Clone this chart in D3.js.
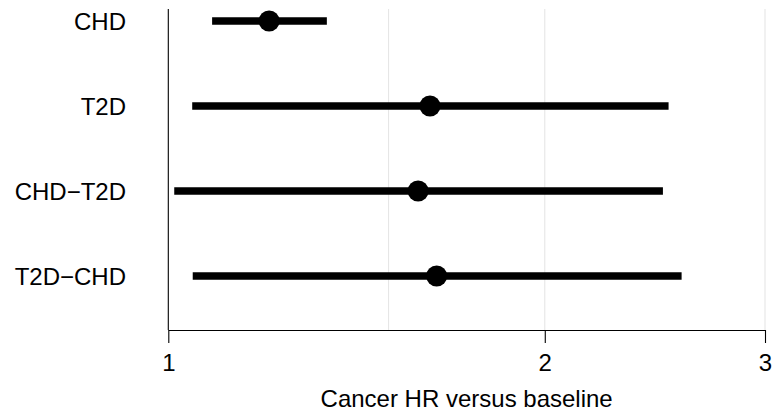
<!DOCTYPE html>
<html>
<head>
<meta charset="utf-8">
<script src="https://cdn.jsdelivr.net/npm/d3@7"></script>
<style>
  body { margin: 0; background: #fff; }
  text { font-family: "Liberation Sans", Arial, sans-serif; }
</style>
</head>
<body>
<div id="chart"></div>
<script>
// data
const groups = ["CHD", "T2D", "CHD\u2212T2D", "T2D\u2212CHD"];
const hr     = [1.204, 1.619, 1.584, 1.639];
const lower  = [1.084, 1.045, 1.011, 1.046];
const upper  = [1.339, 2.512, 2.486, 2.573];
const xTicks = [1, 2, 3];
const xGrid  = [1.5, 2, 3];

const width = 772, height = 411;

const svg = d3.select("#chart").append("svg")
    .attr("width", width)
    .attr("height", height);

const x = d3.scaleLog()
    .domain([1, 3])
    .range([168.3, 765]);

const y = d3.scalePoint()
    .domain(groups)
    .range([21, 276]);

const plotTop = 9, plotBottom = 330;

// grid
svg.append("g")
  .selectAll("line")
  .data(xGrid)
  .enter()
  .append("line")
    .attr("x1", d => x(d)).attr("x2", d => x(d))
    .attr("y1", plotTop).attr("y2", plotBottom)
    .attr("stroke", "#e6e6e6")
    .attr("stroke-width", 1.1);

// reference line at HR = 1
svg.append("line")
    .attr("x1", x(1)).attr("x2", x(1))
    .attr("y1", plotTop).attr("y2", plotBottom)
    .attr("stroke", "black")
    .attr("stroke-width", 1.1);

// x axis
const xAxis = svg.append("g")
    .attr("transform", "translate(0," + plotBottom + ")")
    .call(d3.axisBottom(x).tickValues(xTicks).tickFormat(d3.format("d")).tickSize(13).tickSizeOuter(0));

xAxis.select(".domain").attr("stroke", "black").attr("stroke-width", 1.1);
xAxis.selectAll(".tick line").attr("stroke", "black").attr("stroke-width", 1.1);
xAxis.selectAll(".tick text")
    .attr("y", 0)
    .attr("dy", 0)
    .attr("transform", "translate(0,41)")
    .style("font-size", "24px")
    .attr("fill", "black");

// y labels
svg.append("g")
  .selectAll("text")
  .data(groups)
  .enter()
  .append("text")
    .attr("x", 126)
    .attr("y", d => y(d) + 8.5)
    .attr("text-anchor", "end")
    .style("font-size", "24px")
    .attr("fill", "black")
    .text(d => d);

// intervals
const rows = groups.map((g, i) => ({g: g, hr: hr[i], lo: lower[i], hi: upper[i]}));

svg.append("g")
  .selectAll("line")
  .data(rows)
  .enter()
  .append("line")
    .attr("x1", d => x(d.lo))
    .attr("x2", d => x(d.hi))
    .attr("y1", d => y(d.g))
    .attr("y2", d => y(d.g))
    .attr("stroke", "black")
    .attr("stroke-width", 7.5);

svg.append("g")
  .selectAll("circle")
  .data(rows)
  .enter()
  .append("circle")
    .attr("cx", d => x(d.hr))
    .attr("cy", d => y(d.g))
    .attr("r", 10.5)
    .attr("fill", "black");

// axis title
svg.append("text")
    .attr("x", (x(1) + x(3)) / 2)
    .attr("y", 407)
    .attr("text-anchor", "middle")
    .style("font-size", "24px")
    .attr("fill", "black")
    .text("Cancer HR versus baseline");
</script>
</body>
</html>
